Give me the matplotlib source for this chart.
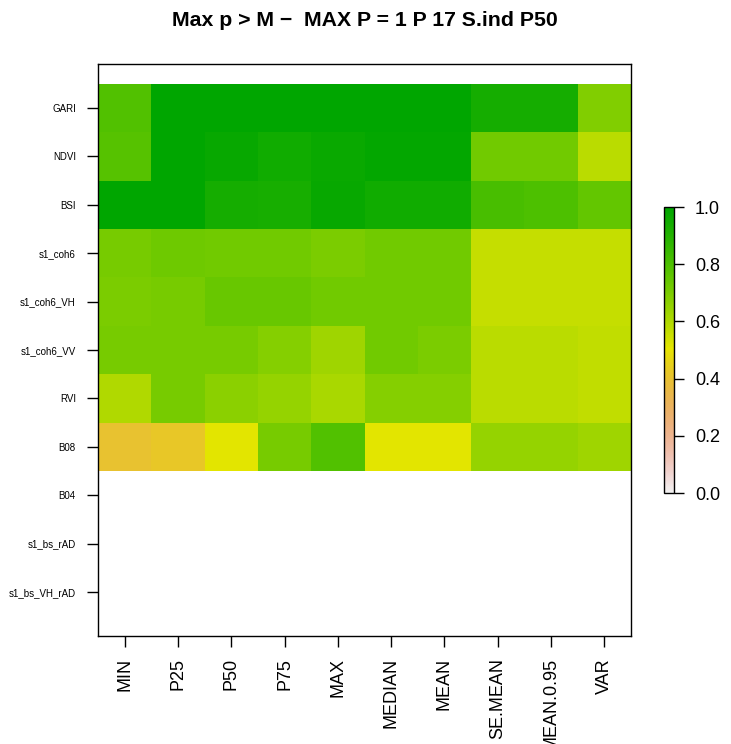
import matplotlib
matplotlib.use("Agg")
import matplotlib.pyplot as plt
import numpy as np
from matplotlib.colors import LinearSegmentedColormap, hsv_to_rgb

plt.rcParams['font.family'] = ['Liberation Sans', 'DejaVu Sans']

rows = ['GARI', 'NDVI', 'BSI', 's1_coh6', 's1_coh6_VH', 's1_coh6_VV',
        'RVI', 'B08', 'B04', 's1_bs_rAD', 's1_bs_VH_rAD']
cols = ['MIN', 'P25', 'P50', 'P75', 'MAX', 'MEDIAN', 'MEAN',
        'SE.MEAN', 'MEAN.0.95', 'VAR']

gari = [0.79, 1.00, 1.00, 1.00, 1.00, 1.00, 1.00, 0.94, 0.94, 0.69]
ndvi = [0.78, 1.00, 0.98, 0.95, 0.97, 0.99, 0.99, 0.72, 0.72, 0.58]
bsi = [1.00, 1.00, 0.94, 0.93, 0.98, 0.95, 0.95, 0.81, 0.80, 0.75]
coh6 = [0.71, 0.73, 0.72, 0.72, 0.70, 0.72, 0.72, 0.56, 0.56, 0.56]
coh6_vh = [0.70, 0.71, 0.74, 0.74, 0.72, 0.72, 0.72, 0.56, 0.56, 0.56]
coh6_vv = [0.71, 0.71, 0.71, 0.68, 0.63, 0.72, 0.70, 0.58, 0.58, 0.57]
rvi = [0.60, 0.71, 0.67, 0.65, 0.61, 0.68, 0.68, 0.58, 0.58, 0.57]
b08 = [0.40, 0.42, 0.51, 0.71, 0.79, 0.51, 0.51, 0.65, 0.65, 0.63]
b04 = [np.nan] * 10
bs_rad = [np.nan] * 10
bs_vh_rad = [np.nan] * 10

values = np.array([gari, ndvi, bsi, coh6, coh6_vh, coh6_vv, rvi, b08,
                   b04, bs_rad, bs_vh_rad])

# reversed R terrain.colors palette
n = 100
k = n // 2
h1 = np.linspace(4 / 12, 2 / 12, k)
s1 = np.linspace(1, 1, k)
v1 = np.linspace(0.65, 0.9, k)
h2 = np.linspace(2 / 12, 0, n - k + 1)[1:]
s2 = np.linspace(1, 0, n - k + 1)[1:]
v2 = np.linspace(0.9, 0.95, n - k + 1)[1:]
hsv = np.column_stack([np.concatenate([h1, h2]), np.concatenate([s1, s2]),
                       np.concatenate([v1, v2])])
terrain = hsv_to_rgb(hsv)[::-1]
cmap = LinearSegmentedColormap.from_list('rterrain', terrain)
cmap.set_bad('white')

W, H = 731, 744
fig = plt.figure(figsize=(W / 100, H / 100), dpi=100)
ax = fig.add_axes([98 / W, (H - 636) / H, 533 / W, 572 / H])

mesh = ax.pcolormesh(np.arange(len(cols) + 1) - 0.5,
                     np.arange(len(rows) + 1) - 0.5,
                     np.ma.masked_invalid(values), cmap=cmap, vmin=0, vmax=1)
ax.set_xlim(-0.5, len(cols) - 0.5)
ax.set_ylim(len(rows) - 0.5 + 0.41, -0.5 - 0.41)

ax.set_xticks(range(len(cols)))
ax.set_xticklabels(cols, rotation=90, fontsize=13)
ax.set_yticks(range(len(rows)))
ax.set_yticklabels(rows, fontsize=7)
ax.tick_params(axis='x', length=8, width=1, pad=8)
ax.tick_params(axis='y', length=8, width=1, pad=8)
for sp in ax.spines.values():
    sp.set_linewidth(1)

fig.text(364.5 / W, 1 - 21 / H, 'Max p > M \u2212  MAX P = 1 P 17 S.ind P50',
         ha='center', va='center', fontsize=15.3, fontweight='bold')

cax = fig.add_axes([664 / W, (H - 493) / H, 10 / W, 286 / H])
cb = fig.colorbar(mesh, cax=cax)
cb.set_ticks([0.0, 0.2, 0.4, 0.6, 0.8, 1.0])
cb.set_ticklabels(['0.0', '0.2', '0.4', '0.6', '0.8', '1.0'])
cb.ax.tick_params(length=7, width=1, labelsize=13, pad=8)
cb.outline.set_linewidth(1)

fig.savefig('out.png', dpi=100)
